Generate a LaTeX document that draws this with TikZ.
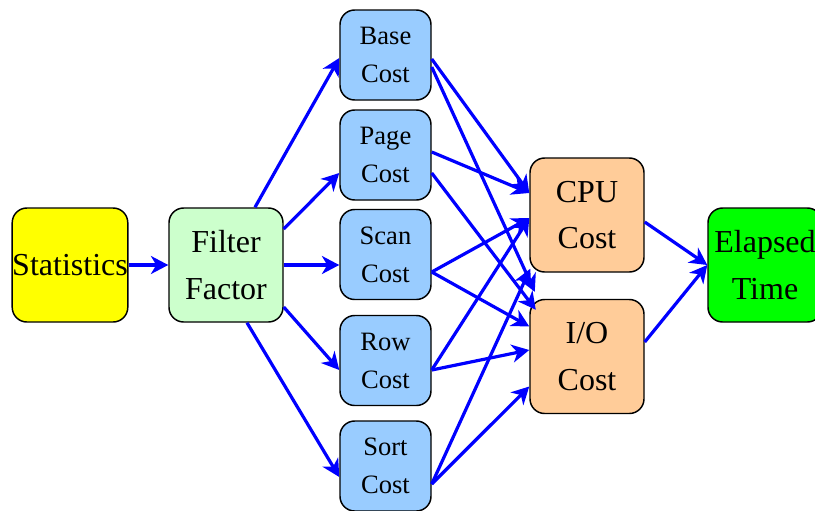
\documentclass[tikz,border=0pt]{standalone}
\usepackage{fontspec}
\setmainfont{Liberation Serif}
\usetikzlibrary{arrows.meta,calc}
\definecolor{cstat}{HTML}{FFFF00}
\definecolor{cfilt}{HTML}{CCFFCC}
\definecolor{ccost}{HTML}{99CCFF}
\definecolor{cres}{HTML}{FFCC99}
\definecolor{celap}{HTML}{00FF00}
\begin{document}
\begin{tikzpicture}[x=0.75pt,y=-0.75pt,
  box/.style={draw=black,line width=1.1pt,rounded corners=11pt,align=center,inner sep=0pt},
  bigbox/.style={box,minimum width=85.5pt,minimum height=85.5pt,font=\fontsize{24}{35}\selectfont},
  costbox/.style={box,fill=ccost,minimum width=68.25pt,minimum height=67.5pt,font=\fontsize{19.9}{28.5}\selectfont},
  flow/.style={draw=blue,line width=2.4pt,-{Stealth[length=13pt,width=13.5pt,inset=4pt]}}]
\clip (0,0) rectangle (815,511);
\node[bigbox,fill=cstat] (stat) at (70,265) {Statistics};
\node[bigbox,fill=cfilt] (filter) at (226,265) {Filter\\Factor};
\node[costbox] (base) at (385.5,55) {Base\\Cost};
\node[costbox] (page) at (385.5,155) {Page\\Cost};
\node[costbox] (scan) at (385.5,254.5) {Scan\\Cost};
\node[costbox] (row) at (385.5,360.5) {Row\\Cost};
\node[costbox] (sort) at (385.5,466) {Sort\\Cost};
\node[bigbox,fill=cres] (cpu) at (587,215) {CPU\\Cost};
\node[bigbox,fill=cres] (io) at (587,356.5) {I/O\\Cost};
\node[bigbox,fill=celap] (elap) at (765,265) {Elapsed\\Time};
% statistics to filter
\draw[flow] (stat.east) -- (filter.west);
% filter to costs
\draw[flow] ($(filter.north)+(29,0)$) -- ($(base.west)+(0,3)$);
\draw[flow] ($(filter.east)+(0,-36)$) -- ($(page.west)+(0,18)$);
\draw[flow] (filter.east) -- ($(scan.west)+(0,10.5)$);
\draw[flow] ($(filter.east)+(0,42)$) -- ($(row.west)+(0,9.5)$);
\draw[flow] ($(filter.south)+(21,0)$) -- ($(sort.west)+(0,11)$);
% costs to cpu / io
\draw[flow] ($(base.east)+(0,4)$) -- ($(cpu.west)+(0,-22)$);
\draw[flow] ($(base.east)+(0,12)$) -- ($(io.north west)+(5.5,-7)$);
\draw[flow] ($(page.east)+(0,-3)$) -- ($(cpu.west)+(0,-22)$);
\draw[flow] ($(page.east)+(0,18)$) -- ($(io.north west)+(6.5,11)$);
\draw[flow] ($(scan.east)+(0,17.5)$) -- ($(cpu.west)+(0,3)$);
\draw[flow] ($(scan.east)+(0,17.5)$) -- ($(io.west)+(0,-30)$);
\draw[flow] ($(row.east)+(0,9.5)$) -- ($(cpu.west)+(0,3)$);
\draw[flow] ($(row.east)+(0,9.5)$) -- ($(io.west)+(0,-6.5)$);
\draw[flow] ($(sort.east)+(0,18)$) -- ($(cpu.south west)+(1,-4)$);
\draw[flow] ($(sort.east)+(0,18)$) -- ($(io.west)+(0,30)$);
% to elapsed time
\draw[flow] ($(cpu.east)+(0,7)$) -- (elap.west);
\draw[flow] ($(io.east)+(0,-14.5)$) -- (elap.west);
\end{tikzpicture}
\end{document}
